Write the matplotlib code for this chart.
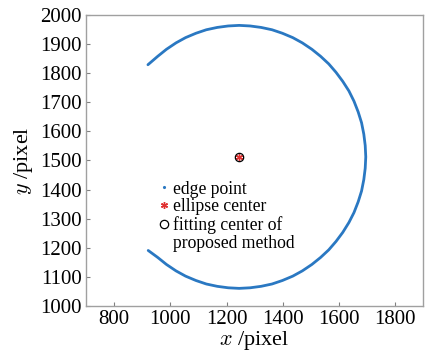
import matplotlib
matplotlib.use("Agg")
import matplotlib.pyplot as plt

plt.rcParams["font.family"] = ["Liberation Serif", "DejaVu Serif"]
plt.rcParams["mathtext.fontset"] = "cm"

# Detected edge points along the contour (pixel coordinates)
edge_x = [921, 955, 986, 1020, 1054, 1091, 1128, 1167, 1206, 1245,
          1284, 1323, 1362, 1399, 1436, 1470, 1504, 1535, 1564, 1590,
          1614, 1636, 1654, 1669, 1681, 1689, 1694, 1696, 1694, 1689,
          1681, 1669, 1654, 1636, 1614, 1590, 1564, 1535, 1504, 1470,
          1436, 1399, 1362, 1323, 1284, 1245, 1206, 1167, 1128, 1091,
          1054, 1020, 986, 955, 920]
edge_y = [1191, 1167, 1143, 1121, 1103, 1088, 1076, 1068, 1063, 1061,
          1063, 1068, 1076, 1088, 1103, 1121, 1143, 1167, 1193, 1222,
          1253, 1287, 1321, 1358, 1395, 1434, 1473, 1512, 1551, 1590,
          1629, 1666, 1703, 1738, 1771, 1802, 1831, 1857, 1881, 1903,
          1921, 1936, 1948, 1956, 1961, 1963, 1961, 1956, 1948, 1936,
          1921, 1903, 1881, 1857, 1828]

# Centers
ellipse_center = (1243, 1513)
fit_center = (1245, 1513)

x_ticks = [800, 1000, 1200, 1400, 1600, 1800]
y_ticks = [1000, 1100, 1200, 1300, 1400, 1500, 1600, 1700, 1800, 1900, 2000]

fig = plt.figure(figsize=(4.33, 3.56), dpi=100)
ax = fig.add_axes([0.199, 0.140, 0.778, 0.819])

blue = "#2a78c2"
ax.plot(edge_x, edge_y, color=blue, lw=2.0, solid_capstyle="round",
        solid_joinstyle="round", zorder=2)
# legend proxy for the edge points
h_edge, = ax.plot([], [], ls="none", marker=".", ms=2.5, color=blue)
h_ell, = ax.plot([ellipse_center[0]], [ellipse_center[1]], ls="none",
                 marker=(6, 2, 0), ms=5, color="#e03030", mec="#e03030",
                 mew=1.0, zorder=3)
h_fit, = ax.plot([fit_center[0]], [fit_center[1]], ls="none", marker="o",
                 ms=6, mfc="none", mec="black", mew=0.9, zorder=4)
# empty handle for the wrapped second line of the last label
h_blank, = ax.plot([], [], ls="none", marker="none")

ax.set_xlim(700, 1900)
ax.set_ylim(1000, 2000)
ax.set_xticks(x_ticks)
ax.set_yticks(y_ticks)
ax.tick_params(direction="in", length=3, width=0.8, color="#808080",
               labelsize=15, pad=3)
for s in ax.spines.values():
    s.set_color("#a0a0a0")
    s.set_linewidth(1.0)

ax.set_xlabel("$x$ /pixel", fontsize=16, labelpad=0)
ax.set_ylabel("$y$ /pixel", fontsize=16, labelpad=4)

ax.legend([h_edge, h_ell, h_fit, h_blank],
          ["edge point", "ellipse center", "fitting center of",
           "proposed method"],
          loc="upper left", bbox_to_anchor=(0.196, 0.455), frameon=False,
          fontsize=12.7, handlelength=0.5, handletextpad=0.3,
          borderaxespad=0, labelspacing=0.05)

fig.savefig("out.png", dpi=100)
